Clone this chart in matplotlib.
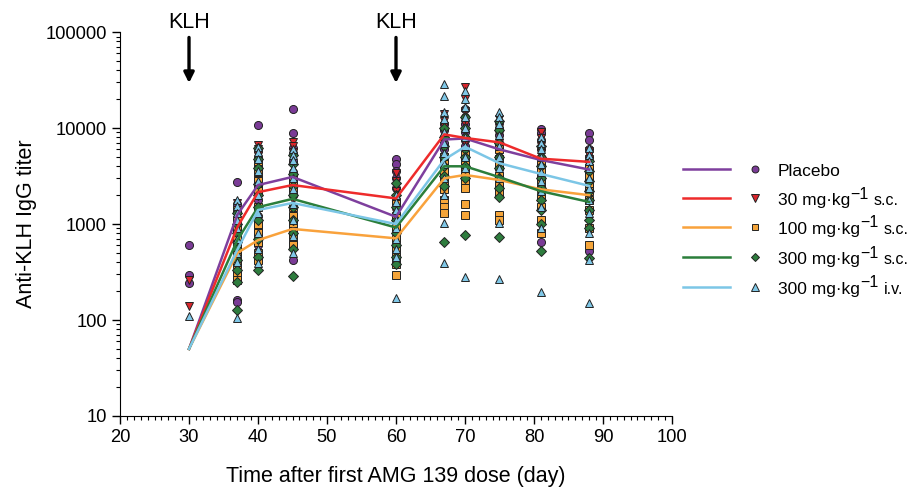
import matplotlib.pyplot as plt
from matplotlib.lines import Line2D

plt.rcParams['font.family'] = ['Liberation Sans', 'DejaVu Sans']

# days of sampling
days = [30, 37, 40, 45, 60, 67, 70, 75, 81, 88]
klh_days = [30, 60]

# group means (lines)
placebo_mean = [50, 1250, 2550, 3100, 1190, 7600, 7800, 6000, 4650, 3700]
sc30_mean = [50, 930, 2150, 2550, 1850, 8600, 7900, 7100, 4800, 4450]
sc100_mean = [50, 500, 680, 890, 710, 3000, 3250, 2880, 2300, 2000]
sc300_mean = [50, 680, 1500, 1830, 920, 4000, 4000, 3080, 2200, 1700]
iv300_mean = [50, 540, 1400, 1660, 1000, 4700, 6400, 4300, 3330, 2500]

# individual animals, one list per day
placebo_pts = [
    [600, 295, 243],
    [2760, 1600, 1350, 1100, 900, 750, 600, 160, 155],
    [10700, 5800, 5000, 4000, 3200, 2500, 1800, 1200, 900, 600],
    [15800, 8900, 6200, 5500, 4500, 3500, 3000, 2000, 1200, 420],
    [4800, 4200, 3600, 3000, 2400, 1800, 1200, 900],
    [11000, 9500, 8000, 7000, 6000, 5000, 4000],
    [16000, 13000, 11000, 9000, 7500, 6500, 5000],
    [11500, 10000, 8500, 7000, 6000, 5000, 4000, 1150],
    [9900, 8800, 7500, 6000, 5000, 4000, 3000, 650],
    [8900, 7500, 6000, 5000, 4000, 3200, 2500, 525],
]
sc30_pts = [
    [260, 140],
    [1650, 1300, 1000, 800, 650, 520, 450, 350],
    [6600, 6000, 5200, 4200, 3400, 2600, 2000, 1400],
    [7100, 6500, 5600, 4800, 4000, 3200, 2500, 1800],
    [3400, 2800, 2200, 1700, 1300, 1000, 800],
    [14000, 12000, 10500, 9000, 7500, 6000, 5000],
    [27000, 20000, 15000, 11000, 9000, 7000, 5500, 4000],
    [12500, 10000, 8500, 7000, 6000, 4800],
    [9200, 7800, 6500, 5500, 4500, 3500],
    [5800, 5300, 4800, 4200, 3700, 3200],
]
sc100_pts = [
    [],
    [1400, 1100, 900, 700, 550, 450, 380, 300, 260],
    [4500, 3500, 2800, 2200, 1500, 1000, 800, 650, 500, 420],
    [3000, 2600, 2200, 1500, 1200, 1000, 850, 700, 600],
    [1600, 1200, 900, 700, 550, 450, 380, 295],
    [5000, 4200, 3500, 2800, 2300, 1800, 1500, 1300],
    [5500, 4500, 3800, 3200, 2700, 2400, 1600, 1230],
    [6000, 4800, 4000, 3200, 2600, 2100, 1230, 1100],
    [4200, 3500, 2900, 2400, 1900, 1500, 1100, 800],
    [3800, 3200, 2600, 2200, 1800, 1400, 910, 600],
]
sc300_pts = [
    [],
    [1300, 1000, 800, 650, 550, 420, 330, 250, 127],
    [6200, 4800, 3800, 2600, 2000, 1500, 1100, 700, 450, 330],
    [5200, 4200, 3300, 2500, 2000, 1500, 1100, 800, 550, 290],
    [2700, 2000, 1500, 1100, 800, 600, 450, 380],
    [10000, 8000, 6500, 5000, 4000, 3200, 2500, 650],
    [13000, 10000, 8000, 6000, 5000, 4000, 3000, 770],
    [12000, 9500, 7000, 5000, 3800, 3000, 2400, 1900, 740],
    [6500, 5000, 4000, 3000, 2400, 1800, 1400, 1000, 520],
    [4500, 3600, 2800, 2200, 1800, 1400, 1100, 900, 440],
]
iv300_pts = [
    [110],
    [1780, 1550, 1300, 1100, 900, 700, 500, 400, 105],
    [6300, 5600, 4800, 3600, 2800, 2000, 1300, 800, 550, 390],
    [6000, 5300, 4600, 3800, 3000, 2300, 1600, 1100, 750, 500],
    [2000, 1700, 1400, 1100, 900, 700, 550, 450, 168],
    [29000, 21500, 14800, 12500, 9000, 7000, 5500, 4200, 3000, 2000, 1030, 390],
    [24500, 20000, 16500, 13000, 10000, 8000, 6500, 5000, 3800, 283],
    [14800, 13000, 11000, 8500, 6500, 5000, 3800, 3000, 1020, 270],
    [8000, 7000, 6000, 5000, 4200, 3500, 2800, 2200, 1500, 900, 195],
    [6200, 5200, 4500, 3800, 3000, 2400, 1800, 1300, 800, 420, 152],
]

labels = ['Placebo', '30 mg·kg', '100 mg·kg', '300 mg·kg', '300 mg·kg']
supers = ['', '\u22121', '\u22121', '\u22121', '\u22121']
suffixes = ['', 's.c.', 's.c.', 's.c.', 'i.v.']
means = [placebo_mean, sc30_mean, sc100_mean, sc300_mean, iv300_mean]
points = [placebo_pts, sc30_pts, sc100_pts, sc300_pts, iv300_pts]

line_colors = ['#7E3F9D', '#EE2B2B', '#F9A23C', '#2B7E3B', '#7CC6E6']
marker_colors = ['#7A3B96', '#D9262C', '#F5A53A', '#2E7D3E', '#80C8E8']
markers = ['o', 'v', 's', 'D', '^']
msizes = [5.8, 6.2, 5.2, 5.2, 6.2]

fig = plt.figure(figsize=(9.19, 4.87), dpi=100)
ax = fig.add_axes([0.1306, 0.1458, 0.6006, 0.7882])

for pts, mk, mc, ms in zip(points, markers, marker_colors, msizes):
    for d, vals in zip(days, pts):
        ax.plot([d] * len(vals), vals, linestyle='none', marker=mk, markersize=ms,
                markerfacecolor=mc, markeredgecolor='#222222', markeredgewidth=0.7, zorder=3)

for m, lc in zip(means, line_colors):
    ax.plot(days, m, color=lc, lw=1.8, zorder=4)

ax.set_yscale('log')
ax.set_ylim(10, 100000)
ax.set_xlim(20, 100)
ax.set_yticks([10, 100, 1000, 10000, 100000])
ax.set_yticklabels(['10', '100', '1000', '10000', '100000'])
ax.set_xticks(range(20, 101, 10))
ax.set_xticks(range(20, 101, 1), minor=True)
ax.tick_params(which='major', direction='out', length=6, width=1, labelsize=13.2)
ax.tick_params(which='minor', direction='out', length=3, width=0.8)
ax.spines['top'].set_visible(False)
ax.spines['right'].set_visible(False)
ax.set_xlabel('Time after first AMG 139 dose (day)', fontsize=15.5, labelpad=14)
ax.set_ylabel('Anti-KLH IgG titer', fontsize=15.5, labelpad=6)

for d in klh_days:
    ax.text(d, 1.27e5, 'KLH', ha='center', va='center', fontsize=15.5, clip_on=False)
    ax.annotate('', xy=(d, 2.95e4), xytext=(d, 8.8e4),
                arrowprops=dict(arrowstyle='-|>', lw=2.4, color='black', mutation_scale=15,
                                shrinkA=0, shrinkB=0),
                annotation_clip=False)

# legend drawn by hand: line, marker, text with raised exponent and suffix
rows_y = [0.653, 0.593, 0.534, 0.472, 0.411]
fig.canvas.draw()
renderer = fig.canvas.get_renderer()
W = fig.bbox.width
for i in range(5):
    y = rows_y[i]
    fig.add_artist(Line2D([0.743, 0.794], [y, y], color=line_colors[i], lw=1.8,
                          transform=fig.transFigure))
    fig.add_artist(Line2D([0.8215], [y], marker=markers[i], markersize=msizes[i] - 0.8,
                          markerfacecolor=marker_colors[i], markeredgecolor='#222222',
                          markeredgewidth=0.7, linestyle='none', transform=fig.transFigure))
    base = y - 0.014
    t = fig.text(0.8466, base, labels[i], fontsize=12.5, va='baseline', ha='left')
    if supers[i]:
        x_end = t.get_window_extent(renderer=renderer).x1 / W
        s = fig.text(x_end, base + 0.013, supers[i], fontsize=11.5,
                     va='baseline', ha='left')
        x_end = s.get_window_extent(renderer=renderer).x1 / W
        fig.text(x_end + 0.006, base, suffixes[i], fontsize=11.5, va='baseline', ha='left')

fig.savefig('out.png', dpi=100)
